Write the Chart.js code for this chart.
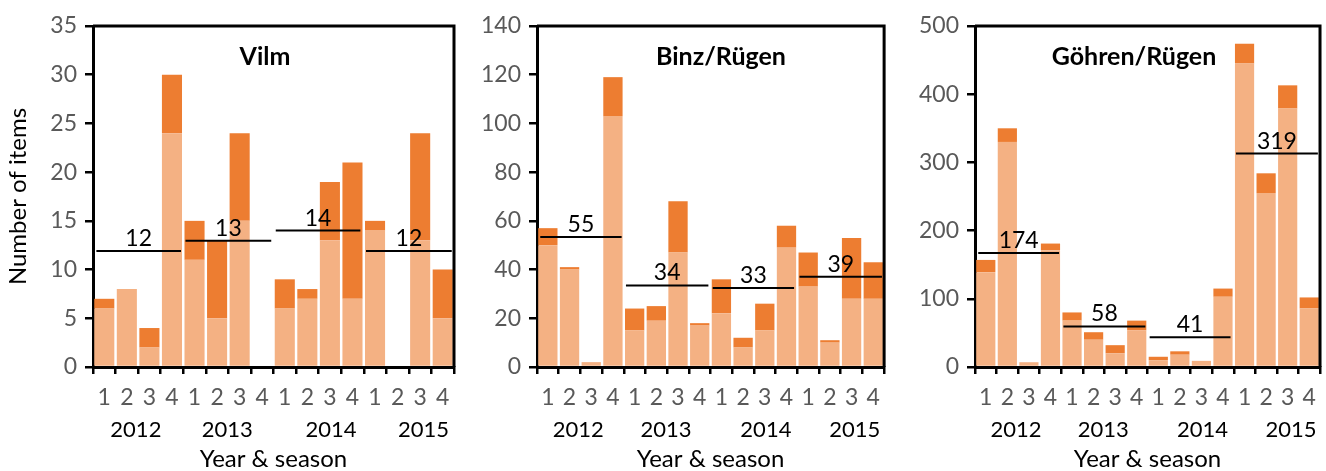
<!DOCTYPE html>
<html><head><meta charset="utf-8">
<script src="https://cdn.jsdelivr.net/npm/chart.js@4.4.0/dist/chart.umd.min.js"></script>
<style>
html,body{margin:0;padding:0;background:#fff;width:1326px;height:471px;overflow:hidden}
.p{position:absolute;top:0;height:471px}
canvas{display:block}
</style></head><body>
<div class="p" style="left:0;width:460px"><canvas id="c1" width="460" height="471"></canvas></div>
<div class="p" style="left:460px;width:430px"><canvas id="c2" width="430" height="471"></canvas></div>
<div class="p" style="left:890px;width:436px"><canvas id="c3" width="436" height="471"></canvas></div>
<script>
// ---------- data ----------
const categories = ['1','2','3','4','1','2','3','4','1','2','3','4','1','2','3','4'];
const yearLabels = ['2012','2013','2014','2015'];
const yearPositions = [1.4, 5.45, 10.05, 14.15];
const meanStarts = [-0.35, 3.6, 7.6, 11.6];
const meanEnds = [3.4, 7.4, 11.35, 15.4];

const vilmLower = [6, 8, 2, 24, 11, 5, 15, 0, 6, 7, 13, 7, 14, 0, 13, 5];
const vilmUpper = [1, 0, 2, 6, 4, 8, 9, 0, 3, 1, 6, 14, 1, 0, 11, 5];
const vilmMeans = [11.9, 12.95, 14.0, 11.9];
const vilmMeanLabels = ['12', '13', '14', '12'];

const binzLower = [50, 40, 2, 103, 15, 19, 47, 17, 22, 8, 15, 49, 33, 10, 28, 28];
const binzUpper = [7, 1, 0, 16, 9, 6, 21, 1, 14, 4, 11, 9, 14, 1, 25, 15];
const binzMeans = [53.4, 33.5, 32.4, 37.1];
const binzMeanLabels = ['55', '34', '33', '39'];

const gohrenLower = [139, 330, 7, 171, 68, 40, 20, 54, 10, 18, 9, 103, 445, 255, 379, 86];
const gohrenUpper = [18, 20, 0, 10, 12, 11, 12, 14, 5, 5, 0, 12, 29, 29, 34, 16];
const gohrenMeans = [167, 59.4, 43.8, 313];
const gohrenMeanLabels = ['174', '58', '41', '319'];

const FONT = 'Lato';
const LIGHT = '#F4B183';
const DARK = '#ED7D31';
const GREY = '#595959';

const decor = {
  id: 'decor',
  afterDatasetsDraw(chart, args, opts) {
    const {ctx, chartArea: a, scales} = chart;
    const xs = scales.x, ys = scales.y;
    ctx.save();
    ctx.strokeStyle = '#000';
    ctx.lineWidth = 3;
    ctx.beginPath();
    ctx.moveTo(a.left, a.top);
    ctx.lineTo(a.right, a.top);
    ctx.lineTo(a.right, a.bottom);
    ctx.stroke();
    // mean lines
    ctx.lineWidth = 2;
    opts.means.forEach((v, i) => {
      const y = ys.getPixelForValue(v);
      ctx.beginPath();
      ctx.moveTo(xs.getPixelForValue(meanStarts[i]), y);
      ctx.lineTo(xs.getPixelForValue(meanEnds[i]), y);
      ctx.stroke();
    });
    // title
    ctx.fillStyle = '#000';
    ctx.font = 'bold 25px ' + FONT;
    ctx.textAlign = 'center';
    ctx.textBaseline = 'alphabetic';
    ctx.fillText(opts.title, a.left + opts.titleX, 65);
    // mean labels
    ctx.font = '23px ' + FONT;
    opts.meanLabels.forEach((t, i) => {
      const x = xs.getPixelForValue((meanStarts[i] + meanEnds[i]) / 2);
      const y = ys.getPixelForValue(opts.means[i]) - 5;
      ctx.fillText(t, x, y);
    });
    // year labels
    ctx.font = '22px ' + FONT;
    yearLabels.forEach((t, i) => {
      ctx.fillText(t, xs.getPixelForValue(yearPositions[i]), 437);
    });
    ctx.restore();
  }
};

function makeChart(id, lower, upper, means, meanLabels, ymax, ystep, yWidth, padRight, title, titleX, showYTitle) {
  new Chart(document.getElementById(id), {
    type: 'bar',
    data: {
      labels: categories,
      datasets: [
        {label: 'lower', data: lower, backgroundColor: LIGHT, stack: 's',
         barPercentage: 0.89, categoryPercentage: 1.0},
        {label: 'upper', data: upper, backgroundColor: DARK, stack: 's',
         barPercentage: 0.89, categoryPercentage: 1.0}
      ]
    },
    options: {
      responsive: false,
      animation: false,
      events: [],
      layout: {padding: {top: 26, right: padRight, left: 0, bottom: 0}},
      plugins: {legend: {display: false}, tooltip: {enabled: false},
        decor: {title, titleX, means, meanLabels}},
      scales: {
        x: {
          stacked: true,
          afterFit: s => { s.height = 104; },
          grid: {offset: true, drawOnChartArea: false, color: '#000', lineWidth: 2.5, tickLength: 7},
          border: {display: true, color: '#000', width: 3},
          ticks: {color: GREY, font: {family: FONT, size: 23}, padding: 10, maxRotation: 0, autoSkip: false},
          title: {display: true, text: 'Year & season', color: '#000', padding: 0,
                  font: {family: FONT, size: 24, lineHeight: 1}}
        },
        y: {
          stacked: true, min: 0, max: ymax,
          afterFit: s => { s.width = yWidth; },
          grid: {drawOnChartArea: false, color: '#000', lineWidth: 2.5, tickLength: 8},
          border: {display: true, color: '#000', width: 3},
          ticks: {stepSize: ystep, color: GREY, font: {family: FONT, size: 23}, padding: 8},
          title: {display: showYTitle, text: 'Number of items', color: '#000', padding: {top: 6, bottom: 0},
                  font: {family: FONT, size: 24, lineHeight: 1}}
        }
      }
    },
    plugins: [decor]
  });
}

makeChart('c1', vilmLower, vilmUpper, vilmMeans, vilmMeanLabels, 35, 5, 93, 6, 'Vilm', 172, true);
makeChart('c2', binzLower, binzUpper, binzMeans, binzMeanLabels, 140, 20, 77, 2, 'Binz/Rügen', 184, false);
makeChart('c3', gohrenLower, gohrenUpper, gohrenMeans, gohrenMeanLabels, 500, 100, 85, 3, 'Göhren/Rügen', 159, false);
</script>
</body></html>
